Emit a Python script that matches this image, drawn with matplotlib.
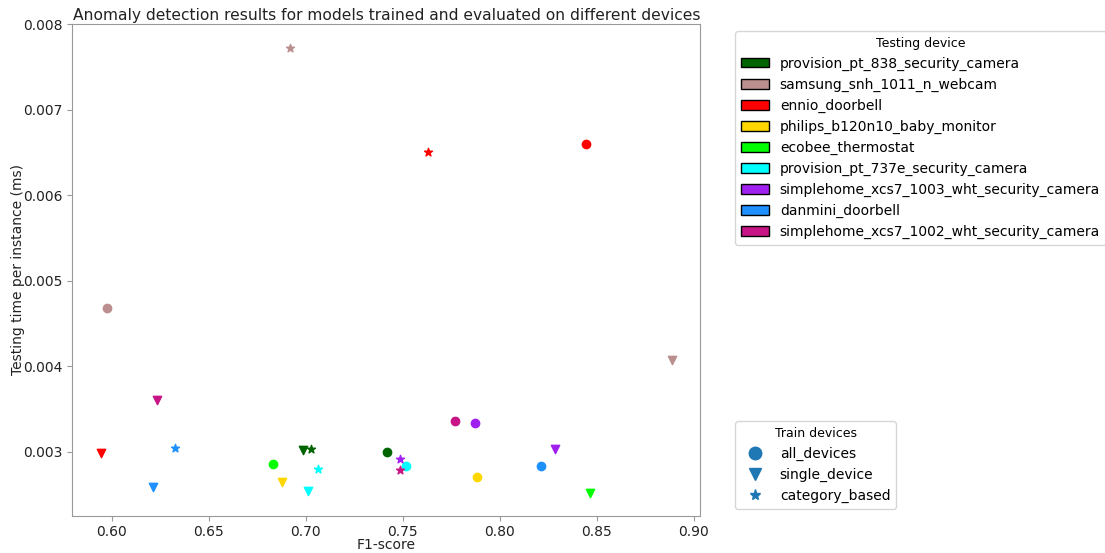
import matplotlib
matplotlib.use("Agg")
import matplotlib.pyplot as plt
from matplotlib.patches import Patch
from matplotlib.lines import Line2D

devices = [
    "provision_pt_838_security_camera",
    "samsung_snh_1011_n_webcam",
    "ennio_doorbell",
    "philips_b120n10_baby_monitor",
    "ecobee_thermostat",
    "provision_pt_737e_security_camera",
    "simplehome_xcs7_1003_wht_security_camera",
    "danmini_doorbell",
    "simplehome_xcs7_1002_wht_security_camera",
]
colors = ["darkgreen", "rosybrown", "red", "gold", "lime", "cyan",
          "#a020f0", "dodgerblue", "mediumvioletred"]

train_types = ["all_devices", "single_device", "category_based"]
markers = ["o", "v", "*"]

# F1-score and testing time per device, for each training type
f1_all = [0.7421, 0.5976, 0.8443, 0.7883, 0.6832, 0.7519, 0.7873, 0.8210, 0.7768]
t_all = [0.002997, 0.004679, 0.006601, 0.002698, 0.002860, 0.002826, 0.003334, 0.002834, 0.003360]

f1_single = [0.6988, 0.8885, 0.5945, 0.6880, 0.8462, 0.7010, 0.8282, 0.6213, 0.6232]
t_single = [0.003016, 0.004066, 0.002980, 0.002640, 0.002512, 0.002543, 0.003028, 0.002590, 0.003609]

f1_cat = [0.7029, 0.6919, 0.7632, None, None, 0.7063, 0.7486, 0.6328, 0.7486]
t_cat = [0.003028, 0.007717, 0.006500, None, None, 0.002791, 0.002911, 0.003047, 0.002779]

series = [(f1_all, t_all), (f1_single, t_single), (f1_cat, t_cat)]

fig = plt.figure(figsize=(11.05, 5.53), dpi=100)
ax = fig.add_axes([0.0656, 0.0674, 0.568, 0.8892])

for (fs, ts), m in zip(series, markers):
    for f, t, c in zip(fs, ts, colors):
        if f is None:
            continue
        ax.scatter(f, t, color=c, marker=m, s=36)

ax.set_ylim(0.00225, 0.008)
ax.set_title("Anomaly detection results for models trained and evaluated on different devices",
             fontsize=11.2, pad=3, color="#222222")
ax.set_xlabel("F1-score", fontsize=10, labelpad=-1, color="#222222")
ax.set_ylabel("Testing time per instance (ms)", fontsize=10, labelpad=-1, color="#222222")
ax.tick_params(labelsize=10, labelcolor="#222222")
for sp in ax.spines.values():
    sp.set_color("#999999")
ax.tick_params(color="#999999")

handles1 = [Patch(facecolor=c, edgecolor="black", label=d) for d, c in zip(devices, colors)]
leg1 = ax.legend(handles=handles1, title="Testing device", loc="upper left",
                 bbox_to_anchor=(1.045, 1), fontsize=10, title_fontsize=9)
ax.add_artist(leg1)

handles2 = [Line2D([], [], linestyle="none", marker=m, color="#1f77b4",
                   markersize=9 if m != "*" else 8, label=t)
            for t, m in zip(train_types, markers)]
ax.legend(handles=handles2, title="Train devices", loc="lower left",
          bbox_to_anchor=(1.045, 0), fontsize=10, title_fontsize=9)

fig.savefig("out.png", dpi=100)
